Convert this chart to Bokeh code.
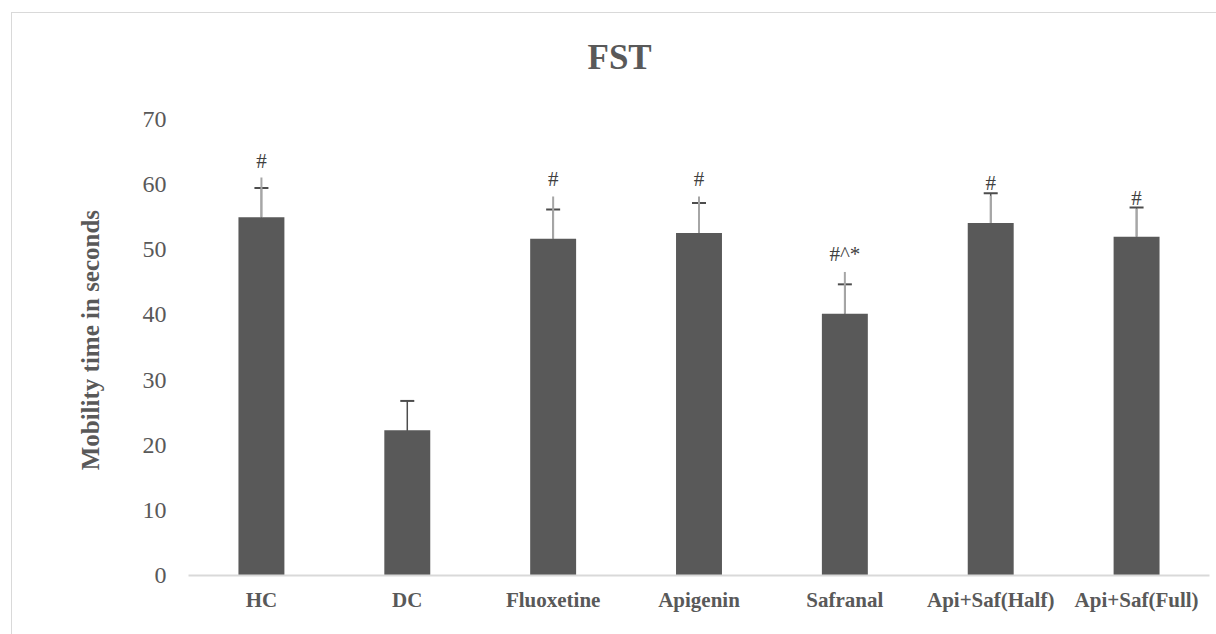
from bokeh.plotting import figure
from bokeh.models import ColumnDataSource, Whisker, TeeHead, FactorRange, Range1d
from bokeh.core.properties import value
from bokeh.embed import file_html
from bokeh.resources import INLINE
import math

categories = ["HC", "DC", "Fluoxetine", "Apigenin", "Safranal", "Api+Saf(Half)", "Api+Saf(Full)"]
means = [55.0, 22.3, 51.7, 52.6, 40.2, 54.1, 52.0]
sd = [4.5, 4.5, 4.5, 4.6, 4.5, 4.6, 4.5]
upper2 = [61.1, float("nan"), 58.2, 58.2, 46.6, 58.3, 56.3]
marks = ["#", "", "#", "#", "#^*", "#", "#"]
mark_y = [63.7, 0.0, 60.8, 60.8, 49.4, 60.3, 58.0]
y_ticks = [0, 10, 20, 30, 40, 50, 60, 70]

FONT = "Liberation Serif"
GREY = "#595959"

src = ColumnDataSource(dict(
    cat=categories, mean=means,
    lo=[m - s for m, s in zip(means, sd)],
    hi=[m + s for m, s in zip(means, sd)],
))
src2 = ColumnDataSource(dict(
    cat=[c for c, u in zip(categories, upper2) if not math.isnan(u)],
    mean=[m for m, u in zip(means, upper2) if not math.isnan(u)],
    up=[u for u in upper2 if not math.isnan(u)],
))
src3 = ColumnDataSource(dict(
    cat=[c for c, t in zip(categories, marks) if t],
    y=[y for y, t in zip(mark_y, marks) if t],
    t=[t for t in marks if t],
))

# frame extends a little above 70 so that the title band can sit higher;
# ticks stop at 70 and there is no outline, so it looks the same
p = figure(x_range=FactorRange(*categories, range_padding=0), y_range=Range1d(0, 73.23),
           width=1205, height=622, output_backend="svg", toolbar_location=None,
           min_border_left=176, min_border_right=8, min_border_top=0, min_border_bottom=60,
           title="FST")
p.styles = {"margin-left": "11px", "margin-top": "12px", "border-top": "1px solid #d9d9d9",
            "border-left": "1px solid #d9d9d9"}

p.vbar(x="cat", top="mean", width=0.315, source=src, fill_color=GREY, line_color=None)

# dark SD whiskers
w = Whisker(base="cat", lower="lo", upper="hi", source=src, line_color="#4d4d4d", line_width=1.5,
            upper_head=TeeHead(size=14, line_color="#4d4d4d", line_width=2),
            lower_head=TeeHead(size=14, line_color="#4d4d4d", line_width=1.5))
p.add_layout(w)
# lighter second error line
p.segment(x0="cat", y0="mean", x1="cat", y1="up", source=src2, line_color="#a6a6a6", line_width=2)

p.text(x="cat", y="y", text="t", source=src3, text_font=value(FONT), text_font_size="21px",
       text_color="#404040", text_align="center", text_baseline="middle")

p.xgrid.visible = False
p.ygrid.visible = False
p.outline_line_color = None

p.yaxis.ticker = y_ticks
p.yaxis.axis_line_color = None
p.yaxis.major_tick_line_color = None
p.yaxis.minor_tick_line_color = None
p.yaxis.major_label_text_font = FONT
p.yaxis.major_label_text_font_size = "24px"
p.yaxis.major_label_text_color = GREY
p.yaxis.major_label_standoff = 16
p.yaxis.axis_label = "Mobility  time in seconds"
p.yaxis.axis_label_text_font = FONT
p.yaxis.axis_label_text_font_style = "bold"
p.yaxis.axis_label_text_font_size = "25px"
p.yaxis.axis_label_text_color = GREY
p.yaxis.axis_label_standoff = 36

p.xaxis.axis_line_color = "#d9d9d9"
p.xaxis.axis_line_width = 2
p.xaxis.major_tick_line_color = None
p.xaxis.minor_tick_line_color = None
p.xaxis.major_label_text_font = FONT
p.xaxis.major_label_text_font_style = "bold"
p.xaxis.major_label_text_font_size = "21px"
p.xaxis.major_label_text_color = GREY
p.xaxis.major_label_standoff = 6

p.title.align = "left"
p.title.offset = 399
p.title.text_font = FONT
p.title.text_font_style = "bold"
p.title.text_font_size = "35px"
p.title.text_color = GREY
p.title.standoff = 44

open("out.html", "w").write(file_html(p, INLINE))
